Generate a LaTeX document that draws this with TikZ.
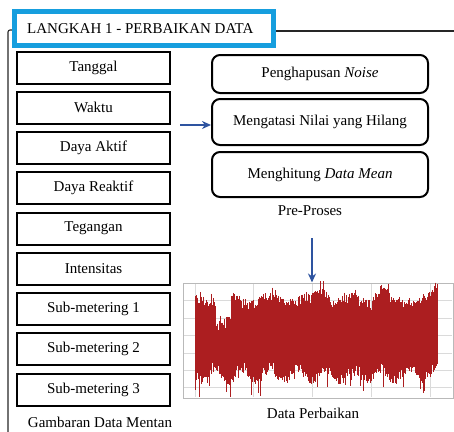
\documentclass[tikz,border=0pt]{standalone}
\usepackage{fontspec}
\setmainfont{Liberation Serif}
\usetikzlibrary{arrows.meta}
\definecolor{titleblue}{RGB}{22,158,222}
\definecolor{arrowblue}{RGB}{46,84,160}
\definecolor{sigred}{RGB}{172,30,32}
\definecolor{gridgray}{RGB}{218,218,218}
\tikzset{
  frameline/.style={line width=1.1pt, black!85},
  field/.style={draw, line width=2pt, minimum width=153pt, minimum height=32pt,
    inner sep=0pt, font=\fontsize{15}{17}\selectfont},
  stage/.style={draw, line width=2pt, rounded corners=8pt, minimum width=216pt,
    inner sep=0pt, font=\fontsize{15}{17}\selectfont},
  caption/.style={inner sep=0pt, font=\fontsize{15}{17}\selectfont},
  flow/.style={arrowblue, line width=1.5pt, -{Stealth[length=9pt,width=8pt]}},
  sig/.style={sigred, line width=0.75pt},
}
\begin{document}
\begin{tikzpicture}[x=1pt,y=-1pt]
\useasboundingbox (0,0) rectangle (454,431);

% outer frame of the step
\draw[frameline, rounded corners=2pt] (16,30) -- (8,30) -- (8,436);
\draw[frameline] (270,31) -- (456,31);

% step title
\node[draw=titleblue, line width=4.5pt, fill=white, minimum width=259pt, minimum height=34pt,
  inner sep=0pt] (title) at (144,28.5) {};
\node[caption, anchor=west] (titletext) at (27,28.5) {LANGKAH 1 - PERBAIKAN DATA};

% raw data fields
\node[field] (f1) at (93.5,67.5)  {Tanggal};
\node[field] (f2) at (93.5,107.75) {Waktu};
\node[field] (f3) at (93.5,148)   {Daya Aktif};
\node[field] (f4) at (93.5,188.25) {Daya Reaktif};
\node[field] (f5) at (93.5,228.5) {Tegangan};
\node[field] (f6) at (93.5,268.75) {Intensitas};
\node[field] (f7) at (93.5,309)   {Sub-metering 1};
\node[field] (f8) at (93.5,349.25) {Sub-metering 2};
\node[field] (f9) at (93.5,389.5) {Sub-metering 3};
\node[caption] (rawcap) at (100,422) {Gambaran Data Mentan};

% pre-processing stages
\node[stage, minimum height=38pt] (p1) at (320,74)    {Penghapusan \textit{Noise}};
\node[stage, minimum height=46pt] (p2) at (320,122)   {Mengatasi Nilai yang Hilang};
\node[stage, minimum height=45pt] (p3) at (320,174.5) {Menghitung \textit{Data Mean}};
\node[caption] (precap) at (310,211) {Pre-Proses};

% cleaned signal plot
\node[draw=gridgray!85!black, line width=1pt, minimum width=270pt, minimum height=115pt,
  inner sep=0pt] (plot) at (318,340.5) {};
\foreach \gx in {195,253,312,371,430}
  \draw[gridgray, line width=0.6pt] (\gx,284) -- (\gx,397);
\foreach \gy in {300,318,335,353,370,387}
  \draw[gridgray, line width=0.6pt] (184,\gy) -- (452,\gy);
\pgfmathsetseed{4242}
\foreach \i in {0,...,495}{
  \pgfmathsetmacro\xx{195+\i*0.49}
  \pgfmathsetmacro\tp{302 + 4*sin(\xx*9) + 24*(\xx>216)*(\xx<231)
     - 12*max(0,1-abs(\xx-323)/10) - 12*max(0,1-abs(\xx-381)/9)
     - 14*max(0,1-abs(\xx-436)/5) + 6*rand - 7*(rnd<0.04)}
  \pgfmathsetmacro\bt{373 + 6*sin(\xx*13) + 6*rand + 14*(rnd<0.05)}
  \draw[sig] (\xx,\tp) -- (\xx,\bt);
}
\node[caption] (plotcap) at (313,413) {Data Perbaikan};

% flow arrows
\coordinate (src) at (180,125);
\draw[flow] (src) -- (p2.west |- src);
\coordinate (down) at (312,238);
\draw[flow] (down) -- (down |- plot.north);
\end{tikzpicture}
\end{document}
